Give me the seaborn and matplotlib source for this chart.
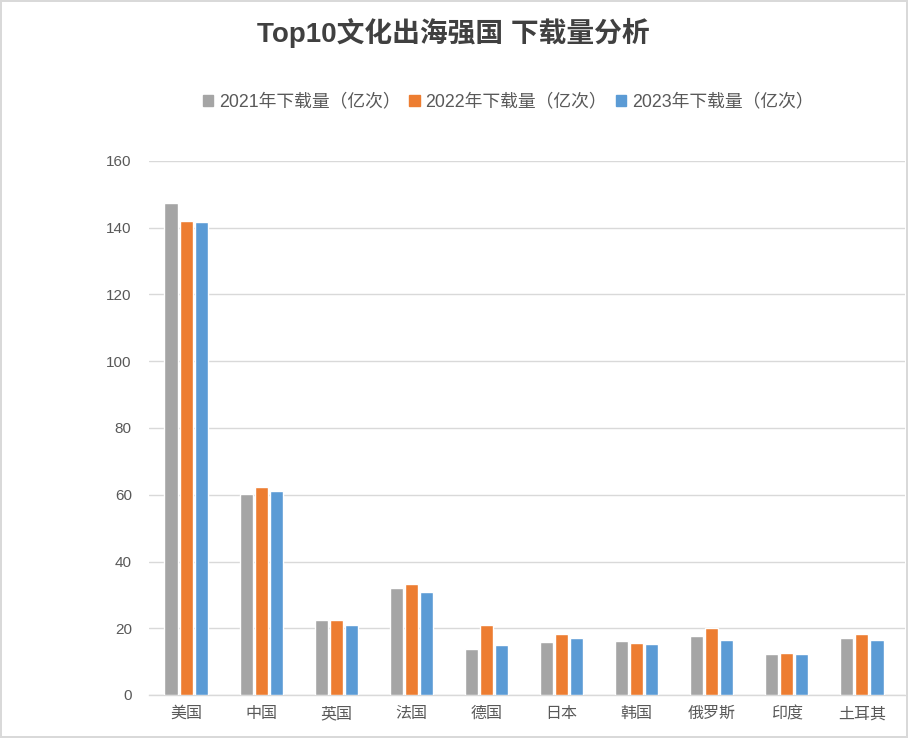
import matplotlib
matplotlib.use("Agg")
import matplotlib.pyplot as plt
import seaborn as sns
import pandas as pd

countries = ["美国", "中国", "英国", "法国", "德国", "日本", "韩国", "俄罗斯", "印度", "土耳其"]
series_names = ["2021年下载量（亿次）", "2022年下载量（亿次）", "2023年下载量（亿次）"]
v2021 = [147.4, 60.2, 22.5, 32.1, 13.8, 15.9, 16.2, 17.7, 12.3, 17.1]
v2022 = [142.0, 62.3, 22.5, 33.3, 21.0, 18.3, 15.6, 20.1, 12.6, 18.3]
v2023 = [141.7, 61.1, 21.0, 30.9, 15.0, 17.1, 15.3, 16.5, 12.3, 16.5]
yticks = [0, 20, 40, 60, 80, 100, 120, 140, 160]
title = "Top10文化出海强国 下载量分析"
colors = ["#A5A5A5", "#ED7D31", "#5B9BD5"]

rows = []
for name, vals in zip(series_names, [v2021, v2022, v2023]):
    for c, v in zip(countries, vals):
        rows.append({"country": c, "series": name, "value": v})
df = pd.DataFrame(rows)

sns.set_theme(style="white")
plt.rcParams["font.family"] = ["Liberation Sans", "Noto Sans CJK SC", "DejaVu Sans"]

fig = plt.figure(figsize=(9.08, 7.38), dpi=100)
fig.patch.set_edgecolor("#d9d9d9")
fig.patch.set_linewidth(1.5)
ax = fig.add_axes([148.5 / 908, 1 - 695 / 738, 756.5 / 908, 534 / 738])

sns.barplot(data=df, x="country", y="value", hue="series", order=countries,
            hue_order=series_names, palette=colors, width=0.6, gap=0.13,
            saturation=1, ax=ax, legend=False, zorder=3)

ax.set_ylim(0, 160)
ax.set_xlim(-0.5, 9.5 + 5.5 / 75.1)
ax.set_yticks(yticks)
ax.yaxis.grid(True, color="#d9d9d9", linewidth=1, zorder=0)
ax.set_axisbelow(True)
for s in ["top", "right", "left"]:
    ax.spines[s].set_visible(False)
ax.spines["bottom"].set_color("#d9d9d9")
ax.spines["bottom"].set_linewidth(1)
ax.tick_params(axis="y", length=0, labelsize=11, labelcolor="#595959", pad=12)
ax.tick_params(axis="x", length=0, labelsize=11.5, labelcolor="#595959", pad=8)
ax.set_xlabel("")
ax.set_ylabel("")

handles = [plt.Rectangle((0, 0), 1, 1, color=c) for c in colors]
fig.legend(handles, series_names, loc="center", bbox_to_anchor=(508 / 908, 1 - 102 / 738),
           ncol=3, frameon=False, fontsize=12.8, handlelength=0.6, handleheight=0.6,
           handletextpad=0.3, columnspacing=0.5, labelcolor="#595959")

fig.text(453 / 908, 1 - 33 / 738, title, ha="center", va="center", fontsize=20,
         fontweight="bold", color="#404040")

fig.savefig("out.png", dpi=100)
